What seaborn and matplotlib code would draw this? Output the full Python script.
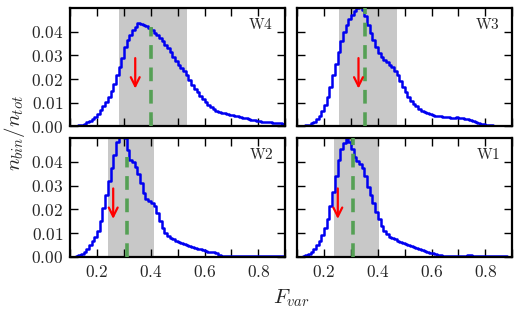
import numpy as np
import pandas as pd
import matplotlib
matplotlib.use("Agg")
import matplotlib.pyplot as plt
from matplotlib.ticker import FuncFormatter, MultipleLocator, FixedLocator
import seaborn as sns

# histogram bins (left edges, width 0.01)
bin_left = np.round(np.arange(0.10, 0.90, 0.01), 2)
y_ticks = [0.00, 0.01, 0.02, 0.03, 0.04]

frac_w4 = [0.0000, 0.0002, 0.0003, 0.0005, 0.0008, 0.0012, 0.0017, 0.0023, 0.0030, 0.0040,
           0.0052, 0.0068, 0.0085, 0.0105, 0.0125, 0.0150, 0.0180, 0.0215, 0.0250, 0.0290,
           0.0335, 0.0365, 0.0385, 0.0405, 0.0420, 0.0435, 0.0432, 0.0428, 0.0422, 0.0415,
           0.0405, 0.0395, 0.0385, 0.0372, 0.0360, 0.0345, 0.0330, 0.0315, 0.0295, 0.0275,
           0.0258, 0.0245, 0.0232, 0.0215, 0.0195, 0.0175, 0.0160, 0.0145, 0.0130, 0.0115,
           0.0102, 0.0090, 0.0080, 0.0072, 0.0066, 0.0062, 0.0058, 0.0055, 0.0053, 0.0050,
           0.0048, 0.0045, 0.0042, 0.0040, 0.0037, 0.0034, 0.0031, 0.0028, 0.0025, 0.0023,
           0.0021, 0.0020, 0.0019, 0.0018, 0.0017, 0.0016, 0.0015, 0.0014, 0.0013, 0.0012]

frac_w3 = [0.0000, 0.0001, 0.0002, 0.0004, 0.0008, 0.0013, 0.0020, 0.0030, 0.0045, 0.0065,
           0.0090, 0.0125, 0.0165, 0.0215, 0.0265, 0.0315, 0.0360, 0.0400, 0.0430, 0.0455,
           0.0470, 0.0485, 0.0498, 0.0502, 0.0490, 0.0465, 0.0430, 0.0395, 0.0365, 0.0335,
           0.0310, 0.0292, 0.0280, 0.0270, 0.0260, 0.0250, 0.0235, 0.0215, 0.0190, 0.0165,
           0.0145, 0.0125, 0.0108, 0.0095, 0.0085, 0.0075, 0.0066, 0.0060, 0.0055, 0.0051,
           0.0048, 0.0046, 0.0044, 0.0042, 0.0040, 0.0039, 0.0038, 0.0037, 0.0037, 0.0038,
           0.0037, 0.0035, 0.0033, 0.0030, 0.0027, 0.0024, 0.0020, 0.0016, 0.0012, 0.0009,
           0.0007, 0.0005, 0.0004, 0.0003, 0.0003, 0.0002, 0.0002, 0.0002, 0.0001, 0.0001]

frac_w2 = [0.0000, 0.0000, 0.0002, 0.0006, 0.0012, 0.0020, 0.0032, 0.0048, 0.0065, 0.0085,
           0.0110, 0.0150, 0.0205, 0.0260, 0.0320, 0.0375, 0.0430, 0.0485, 0.0530, 0.0535,
           0.0500, 0.0450, 0.0410, 0.0398, 0.0380, 0.0350, 0.0310, 0.0270, 0.0245, 0.0235,
           0.0228, 0.0215, 0.0185, 0.0150, 0.0120, 0.0100, 0.0088, 0.0080, 0.0073, 0.0067,
           0.0062, 0.0057, 0.0053, 0.0049, 0.0045, 0.0041, 0.0037, 0.0034, 0.0031, 0.0027,
           0.0023, 0.0020, 0.0019, 0.0020, 0.0015, 0.0007, 0.0003, 0.0002, 0.0002, 0.0002,
           0.0002, 0.0002, 0.0002, 0.0002, 0.0002, 0.0002, 0.0003, 0.0003, 0.0003, 0.0003,
           0.0004, 0.0004, 0.0003, 0.0003, 0.0003, 0.0002, 0.0002, 0.0002, 0.0002, 0.0002]

frac_w1 = [0.0000, 0.0001, 0.0003, 0.0007, 0.0013, 0.0020, 0.0032, 0.0048, 0.0068, 0.0092,
           0.0120, 0.0160, 0.0215, 0.0275, 0.0340, 0.0410, 0.0455, 0.0480, 0.0498, 0.0485,
           0.0455, 0.0420, 0.0405, 0.0392, 0.0375, 0.0340, 0.0295, 0.0260, 0.0225, 0.0190,
           0.0160, 0.0130, 0.0110, 0.0095, 0.0085, 0.0078, 0.0073, 0.0068, 0.0064, 0.0058,
           0.0052, 0.0048, 0.0045, 0.0041, 0.0037, 0.0034, 0.0030, 0.0026, 0.0022, 0.0018,
           0.0015, 0.0012, 0.0009, 0.0007, 0.0005, 0.0004, 0.0003, 0.0003, 0.0003, 0.0003,
           0.0004, 0.0004, 0.0005, 0.0006, 0.0006, 0.0005, 0.0004, 0.0003, 0.0003, 0.0002,
           0.0002, 0.0002, 0.0002, 0.0002, 0.0002, 0.0002, 0.0002, 0.0002, 0.0001, 0.0001]

fields = ["W4", "W3", "W2", "W1"]
span_lo = [0.280, 0.256, 0.242, 0.237]
span_hi = [0.533, 0.471, 0.411, 0.404]
median_x = [0.400, 0.352, 0.310, 0.309]
median_top = [0.042, 0.050, 0.042, 0.050]
arrow_x = [0.342, 0.328, 0.260, 0.251]


def BuildFrame():
    parts = []
    for name, frac in zip(fields, [frac_w4, frac_w3, frac_w2, frac_w1]):
        parts.append(pd.DataFrame({"field": name, "fvar": bin_left + 0.005, "frac": frac}))
    return pd.concat(parts, ignore_index=True)


def DrawHist(data, **kws):
    sns.histplot(data=data, x="fvar", weights="frac", binwidth=0.01, binrange=(0.1, 0.9),
                 element="step", fill=False, color="#0000f0", lw=1.8, ax=plt.gca())


sns.set_style("ticks", {"xtick.direction": "in", "ytick.direction": "in"})
plt.rcParams["font.family"] = ["DejaVu Serif"]
plt.rcParams["mathtext.fontset"] = "cm"

df = BuildFrame()
g = sns.FacetGrid(df, col="field", col_wrap=2, col_order=fields, sharex=True, sharey=True,
                  height=1.6, aspect=1.6)
g.map_dataframe(DrawHist)
g.figure.set_size_inches(5.2, 3.17)
g.set_axis_labels("", "")
g.set_titles("")

for i, ax in enumerate(g.axes.flat):
    ax.axvspan(span_lo[i], span_hi[i], color="#c8c8c8", lw=0, zorder=0)
    ax.plot([median_x[i], median_x[i]], [0, median_top[i]], color="#55a055", lw=2.6,
            dashes=(3.8, 2.4), zorder=3)
    ax.annotate("", xy=(arrow_x[i], 0.0148), xytext=(arrow_x[i], 0.0300),
                arrowprops=dict(arrowstyle="->", color="red", lw=1.6, mutation_scale=16),
                zorder=4)
    ax.text(0.855, 0.0432, r"$\mathrm{%s}$" % fields[i], ha="right", va="center", fontsize=11)
    ax.set_xlim(0.1, 0.9)
    ax.set_ylim(0, 0.05)
    ax.xaxis.set_major_locator(MultipleLocator(0.2))
    ax.xaxis.set_minor_locator(MultipleLocator(0.1))
    ax.yaxis.set_major_locator(FixedLocator(y_ticks))
    ax.xaxis.set_major_formatter(FuncFormatter(lambda v, p: "$%.1f$" % v))
    ax.yaxis.set_major_formatter(FuncFormatter(lambda v, p: "$%.2f$" % v))
    ax.tick_params(which="both", direction="in", top=True, right=True, length=5.5,
                   width=1.0, labelsize=12.5, pad=5, color="black",
                   labelleft=(i % 2 == 0), labelbottom=(i >= 2))
    for sp in ax.spines.values():
        sp.set_visible(True)
        sp.set_linewidth(1.6)
        sp.set_color("black")

g.figure.subplots_adjust(left=0.135, right=0.985, top=0.975, bottom=0.19,
                         wspace=0.056, hspace=0.1)
g.figure.text(0.027, 0.58, r"$n_{bin}/n_{tot}$", rotation=90, ha="center", va="center",
              fontsize=15)
g.figure.text(0.56, 0.06, r"$F_{var}$", ha="center", va="center", fontsize=15)

g.figure.savefig("out.png", dpi=100)
